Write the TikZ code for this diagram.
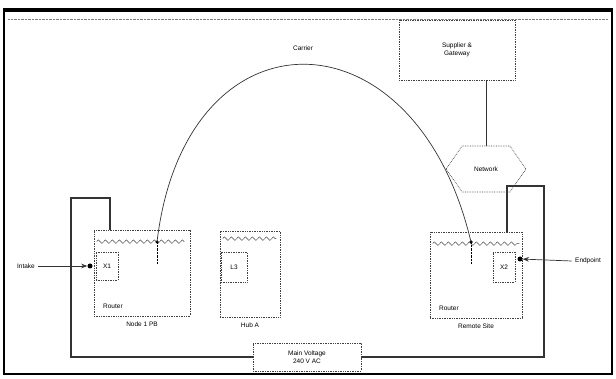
\documentclass[tikz,border=0pt]{standalone}
\usepackage{fontspec}
\setmainfont{Liberation Sans}
\usetikzlibrary{arrows.meta,calc,shapes.symbols,decorations.pathmorphing}

\begin{document}
\begin{tikzpicture}[x=1pt,y=-1pt,>=Stealth,font=\fontsize{6.5}{7.5}\selectfont,
  box/.style={draw=black!75,densely dotted,line width=.7pt,inner sep=0pt},
  dev/.style={box,minimum height=86pt,minimum width=#1},
  port/.style={box,minimum width=22pt,minimum height=28pt},
  zig/.style={draw=black!75,decorate,decoration={zigzag,amplitude=1.8pt,segment length=7pt}},
  dot/.style={circle,fill=black,inner sep=0pt,minimum size=5pt},
  wire/.style={draw=black!80,line width=.7pt},
  encl/.style={draw=black!80,line width=1.4pt}]
  \useasboundingbox (0,0) rectangle (616,379);
  % outer frame
  \draw[line width=2.4pt] (4,9) rectangle (612,374);
  \draw[line width=4pt] (3,10) -- (613,10);
  \draw[gray,densely dotted] (8,19) -- (608,19);

  % enclosure round the devices
  \draw[encl] (110,230) -- (110,198) -- (71,198) -- (71,357) -- (544,357)
    -- (544,186) -- (507,186) -- (507,232);

  % devices
  \node[dev=96pt] (lr) at (142,273) {};
  \node[dev=60pt] (hub) at (250,274) {};
  \node[dev=92pt] (rr) at (476,275) {};
  \node[port] (lp) at (107,266) {X1};
  \node[port,minimum width=26pt,minimum height=30pt] (hp) at (234,267) {L3};
  \node[port,minimum height=30pt] (rp) at (504,267) {X2};
  \draw[zig] ($(lr.north west)+(3,12)$) -- ($(lr.north east)+(-6,12)$);
  \draw[zig] ($(hub.north west)+(3,8)$) -- ($(hub.north east)+(-4,8)$);
  \draw[zig] ($(rr.north west)+(3,12)$) -- ($(rr.north east)+(-3,12)$);
  \node[anchor=south west] at ($(lr.south west)+(6,-4)$) {Router};
  \node[anchor=south west] at ($(rr.south west)+(6,-4)$) {Router};
  \node[below=2pt] (lrl) at (lr.south) {Node 1 PB};
  \node[below=2pt] (hubl) at (hub.south) {Hub A};
  \node[below=2pt] (rrl) at (rr.south) {Remote Site};

  % carrier arc
  \coordinate (arcL) at (157,242);
  \coordinate (arcR) at (471,242);
  \node[dot,minimum size=3.5pt] at (arcL) {};
  \node[dot,minimum size=3.5pt] at (arcR) {};
  \draw[wire] (arcL) .. controls (185,5) and (415,5) .. (arcR);
  \draw[densely dotted] (arcL) -- ++(0,22);
  \draw[densely dotted] (arcR) -- ++(0,22);
  \node (car) at (303,48) {Carrier};

  % gateway and network
  \node[box,minimum width=116pt,minimum height=60pt,align=center] (sg) at (457,50)
    {Supplier \&\\ Gateway};
  \node[box,shape=signal,signal to=west and east,signal pointer angle=110,
    minimum width=80pt,minimum height=46pt] (net) at (486,169) {Network};
  \draw[wire] (net.north) -- (net.north |- sg.south);

  % feeds
  \node (in) at (26,266) {Intake};
  \node[dot] (ld) at (90,266) {};
  \draw[wire,->] (in.east) -- (ld);
  \node (out) at (588,261) {Endpoint};
  \node[dot] (rd) at (520,259) {};
  \draw[wire,->] (out.west) -- (rd);

  % supply
  \node[box,fill=white,minimum width=108pt,minimum height=28pt,align=center] (bus)
    at (307,357) {Main Voltage\\ 240 V AC};
\end{tikzpicture}
\end{document}
